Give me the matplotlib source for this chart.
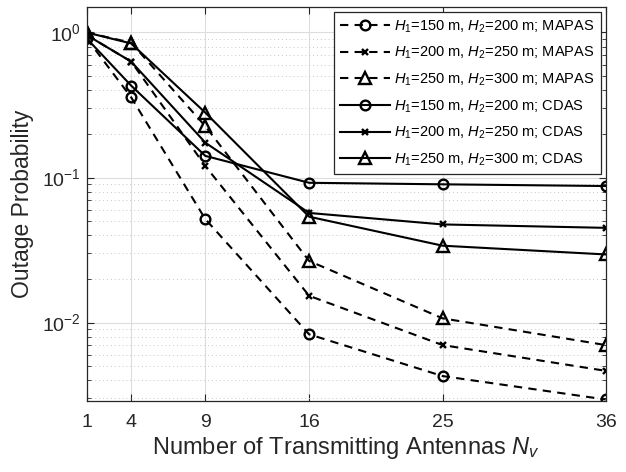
import matplotlib
matplotlib.use('Agg')
import matplotlib.pyplot as plt
from matplotlib.ticker import LogLocator, NullFormatter

plt.rcParams['font.family'] = ['Liberation Sans', 'DejaVu Sans']
plt.rcParams['mathtext.fontset'] = 'custom'
plt.rcParams['mathtext.rm'] = 'Liberation Sans'
plt.rcParams['mathtext.it'] = 'Liberation Sans:italic'

# number of transmitting antennas
n_v = [1, 4, 9, 16, 25, 36]

# MAPAS (dashed)
mapas_150 = [0.91, 0.357, 0.0517, 0.0083, 0.00428, 0.00295]
mapas_200 = [0.96, 0.63, 0.120, 0.0153, 0.0070, 0.00465]
mapas_250 = [1.0, 0.85, 0.226, 0.0266, 0.0107, 0.0070]

# CDAS (solid)
cdas_150 = [0.91, 0.43, 0.141, 0.092, 0.0898, 0.0874]
cdas_200 = [0.96, 0.63, 0.174, 0.057, 0.0475, 0.045]
cdas_250 = [1.0, 0.84, 0.28, 0.0537, 0.0339, 0.0295]

labels = ['$H_1$=150 m, $H_2$=200 m; MAPAS',
          '$H_1$=200 m, $H_2$=250 m; MAPAS',
          '$H_1$=250 m, $H_2$=300 m; MAPAS',
          '$H_1$=150 m, $H_2$=200 m; CDAS',
          '$H_1$=200 m, $H_2$=250 m; CDAS',
          '$H_1$=250 m, $H_2$=300 m; CDAS']

fig = plt.figure(figsize=(6.26, 4.72), dpi=100)
ax = fig.add_axes([0.1385, 0.1504, 0.829, 0.834])

mk = dict(color='black', lw=1.5, markerfacecolor='none', markeredgecolor='black', markeredgewidth=1.7)
dash = (0, (4, 3))
ax.plot(n_v, mapas_150, linestyle=dash, marker='o', markersize=7, label=labels[0], **mk)
ax.plot(n_v, mapas_200, linestyle=dash, marker='x', markersize=5, label=labels[1], **mk)
ax.plot(n_v, mapas_250, linestyle=dash, marker='^', markersize=8, label=labels[2], **mk)
ax.plot(n_v, cdas_150, linestyle='-', marker='o', markersize=7, label=labels[3], **mk)
ax.plot(n_v, cdas_200, linestyle='-', marker='x', markersize=5, label=labels[4], **mk)
ax.plot(n_v, cdas_250, linestyle='-', marker='^', markersize=8, label=labels[5], **mk)

ax.set_yscale('log')
ax.set_xlim(1, 36)
ax.set_ylim(0.00288, 1.49)
ax.set_xticks(n_v)
ax.yaxis.set_minor_locator(LogLocator(base=10, subs=range(2, 10), numticks=20))
ax.yaxis.set_minor_formatter(NullFormatter())

ax.grid(True, which='major', color='#dcdcdc', lw=0.8)
ax.grid(True, which='minor', axis='y', color='#c8c8c8', lw=0.7, linestyle=(0, (1, 3)))
ax.set_axisbelow(True)

for s in ax.spines.values():
    s.set_color('#262626')
    s.set_linewidth(0.9)
ax.tick_params(which='both', direction='in', top=True, right=True, colors='#262626', labelsize=14)
ax.tick_params(which='major', length=5)
ax.tick_params(which='minor', length=3)
ax.tick_params(axis='x', pad=9)
ax.tick_params(axis='y', pad=4)

ax.set_xlabel('Number of Transmitting Antennas $N_v$', fontsize=17, color='#262626', labelpad=3)
ax.set_ylabel('Outage Probability', fontsize=16.5, color='#262626', labelpad=6)

leg = ax.legend(loc='upper right', fontsize=10.5, handlelength=3.4, handletextpad=0.3,
                borderaxespad=0.35, labelspacing=0.7, fancybox=False, framealpha=1,
                edgecolor='#262626', borderpad=0.4)
leg.get_frame().set_linewidth(0.9)

fig.savefig('out.png', dpi=100)
